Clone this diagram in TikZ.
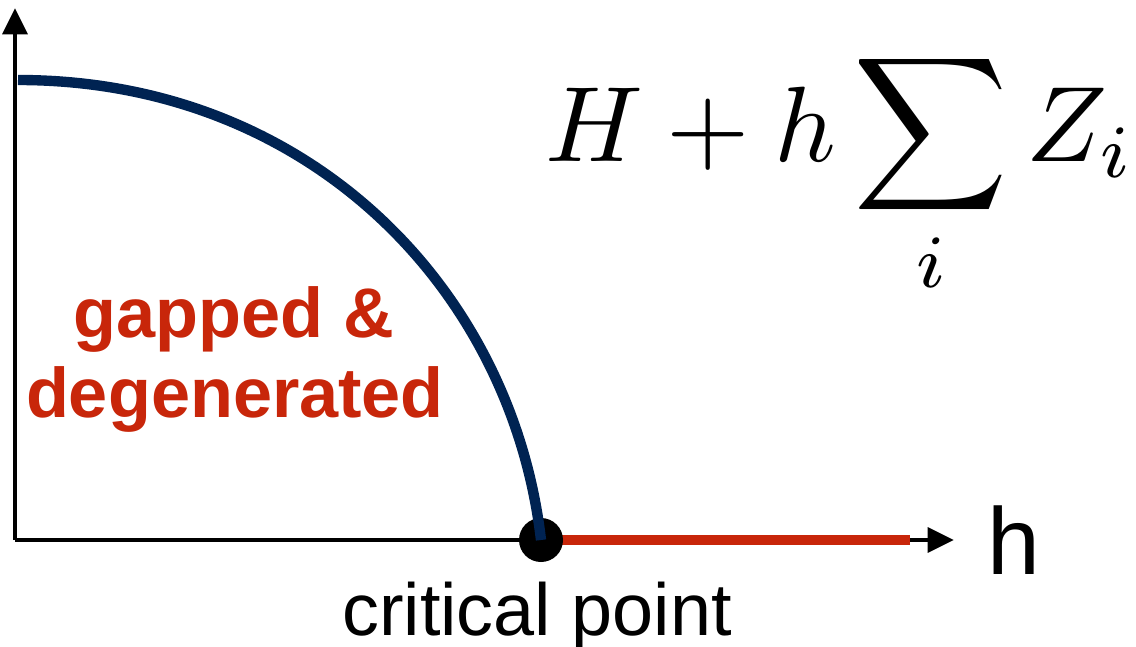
\documentclass[tikz,border=0pt]{standalone}
\usepackage{fontspec}
\setmainfont{Liberation Sans}
\usepackage{graphicx}
\usetikzlibrary{arrows.meta}
\definecolor{navyc}{RGB}{0,35,82}
\definecolor{redc}{RGB}{200,38,10}
\begin{document}
\begin{tikzpicture}[x=0.02cm,y=-0.02cm,
  axis/.style={line width=2.7pt,-{Triangle[length=15pt,width=14pt]}},
  phaseline/.style={line width=5.9pt},
  redlabel/.style={font=\bfseries\fontsize{40}{46}\selectfont,text=redc,anchor=base,inner sep=0},
  blacklabel/.style={anchor=base,inner sep=0}]
\useasboundingbox (0,0) rectangle (1136,646);
\coordinate (O) at (15,540);
\coordinate (ytip) at (15,8);
\coordinate (xtip) at (954,540);
\coordinate (cs) at (18,80);
\coordinate (rend) at (910,540);
\draw[axis] (O) -- (ytip);
\draw[axis] (O) -- (xtip);
\draw[phaseline,redc] (541,540) -- (rend);
\node[circle,fill=black,minimum size=0.88cm,inner sep=0] (cp) at (541,540) {};
\draw[phaseline,navyc] (cs) .. controls (310,80) and (512,290) .. (cp.center);
\node[redlabel] (l1) at (234,337) {gapped \&};
\node[redlabel] (l2) at (235,417) {degenerated};
\node[blacklabel,font=\fontsize{54}{60}\selectfont] (hl) at (1014,574) {h};
\node[blacklabel,font=\fontsize{42}{48}\selectfont] (cpl) at (537,635) {critical point};
\node[anchor=base west,inner sep=0] (ham) at (545,161) {\scalebox{6.1}{$\displaystyle H+h\sum_i Z_i$}};
\end{tikzpicture}
\end{document}
